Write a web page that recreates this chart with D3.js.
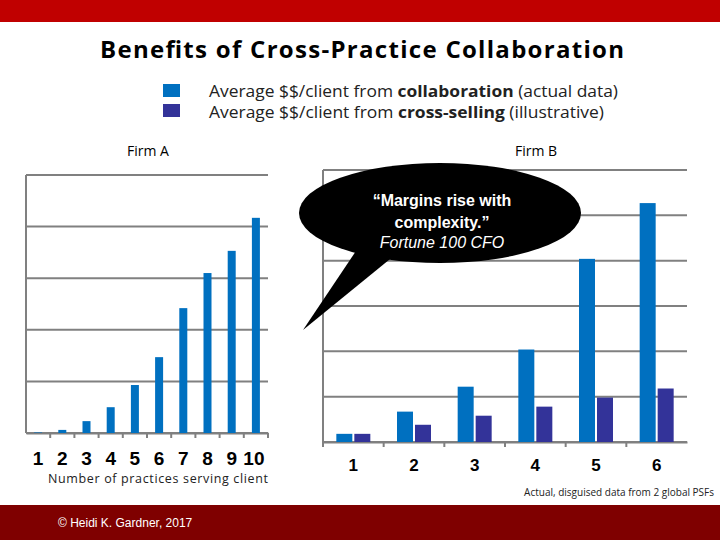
<!DOCTYPE html>
<html><head><meta charset="utf-8">
<script src="https://cdn.jsdelivr.net/npm/d3@7"></script>
<style>body{margin:0}svg{display:block}</style>
</head><body><div id="chart"></div>
<script>
const practicesA = ["1","2","3","4","5","6","7","8","9","10"];
const firmA = [0.01, 0.06, 0.23, 0.5, 0.93, 1.47, 2.42, 3.1, 3.53, 4.17];
const practicesB = ["1","2","3","4","5","6"];
const firmBCollab = [0.18, 0.67, 1.22, 2.04, 4.04, 5.27];
const firmBCross = [0.18, 0.38, 0.58, 0.78, 0.98, 1.18];

const blue = "#0070C0", purple = "#333399", grid = "#808080";
const font = "'Open Sans', sans-serif";

const svg = d3.select("#chart").append("svg").attr("width", 720).attr("height", 540);
svg.append("rect").attr("width", 720).attr("height", 540).attr("fill", "#fff");
svg.append("rect").attr("width", 720).attr("height", 22).attr("fill", "#C00000");
svg.append("rect").attr("y", 505).attr("width", 720).attr("height", 35).attr("fill", "#7F0000");
svg.append("text").attr("x", 58).attr("y", 527).attr("fill", "#fff")
  .attr("font-family", "Arial, sans-serif").attr("font-size", 12).text("© Heidi K. Gardner, 2017");

svg.append("text").attr("x", 362).attr("y", 58).attr("text-anchor", "middle")
  .attr("font-family", font).attr("font-weight", "bold").attr("font-size", 24)
  .attr("textLength", 524).text("Benefits of Cross-Practice Collaboration");

// legend
const legend = [
  {c: blue, pre: "Average $$/client from ", b: "collaboration", post: " (actual data)", w: 409},
  {c: purple, pre: "Average $$/client from ", b: "cross-selling", post: " (illustrative)", w: 395}
];
legend.forEach((l, i) => {
  svg.append("rect").attr("x", 163).attr("y", 84 + i * 20).attr("width", 17).attr("height", 13).attr("fill", l.c);
  const t = svg.append("text").attr("x", 209).attr("y", 97 + i * 21)
    .attr("font-family", font).attr("font-size", 16).attr("fill", "#222")
    .attr("textLength", l.w).attr("lengthAdjust", "spacingAndGlyphs");
  t.append("tspan").text(l.pre);
  t.append("tspan").attr("font-weight", "bold").text(l.b);
  t.append("tspan").text(l.post);
});

svg.append("text").attr("x", 148).attr("y", 156).attr("text-anchor", "middle")
  .attr("font-family", font).attr("font-size", 14).text("Firm A");
svg.append("text").attr("x", 536).attr("y", 156).attr("text-anchor", "middle")
  .attr("font-family", font).attr("font-size", 14).text("Firm B");

function drawGrid(g, y, x0, x1, n) {
  d3.range(0, n + 1).forEach(v => {
    g.append("line").attr("x1", x0).attr("x2", x1).attr("y1", y(v)).attr("y2", y(v))
      .attr("stroke", grid).attr("stroke-width", 2);
  });
  g.append("line").attr("x1", x0).attr("x2", x0).attr("y1", y(0)).attr("y2", y(n))
    .attr("stroke", grid).attr("stroke-width", 2);
}

// Firm A
const xA = d3.scaleBand().domain(practicesA).range([26, 268]);
const yA = d3.scaleLinear().domain([0, 5]).range([433, 175]);
const gA = svg.append("g");
drawGrid(gA, yA, 26, 268, 5);
gA.append("g").attr("transform", "translate(0,433)")
  .call(d3.axisBottom(xA).tickSize(5).tickSizeOuter(0).tickFormat(""))
  .call(a => a.select(".domain").attr("stroke", grid).attr("stroke-width", 2))
  .call(a => a.selectAll(".tick line").attr("stroke", grid).attr("stroke-width", 2)
    .attr("transform", `translate(${xA.bandwidth() / 2},0)`));
gA.selectAll("rect.bar").data(firmA).join("rect")
  .attr("x", (d, i) => xA(practicesA[i]) + xA.bandwidth() / 2 - 4)
  .attr("width", 8).attr("y", d => yA(d)).attr("height", d => yA(0) - yA(d)).attr("fill", blue);
gA.selectAll("text.lab").data(practicesA).join("text")
  .attr("x", d => xA(d) + xA.bandwidth() / 2 + (d === "10" ? -2 : 0)).attr("y", 465)
  .attr("text-anchor", "middle").attr("font-family", "Arial, sans-serif")
  .attr("font-weight", "bold").attr("font-size", 19).text(d => d);
svg.append("text").attr("x", 158).attr("y", 483).attr("text-anchor", "middle")
  .attr("font-family", font).attr("font-size", 12.5).attr("fill", "#222")
  .attr("textLength", 220).text("Number of practices serving client");

// Firm B
const xB = d3.scaleBand().domain(practicesB).range([323, 687]);
const yB = d3.scaleLinear().domain([0, 6]).range([442, 170]);
const gB = svg.append("g");
drawGrid(gB, yB, 323, 687, 6);
gB.append("g").attr("transform", "translate(0,442)")
  .call(d3.axisBottom(xB).tickSize(5).tickSizeOuter(0).tickFormat(""))
  .call(a => a.select(".domain").attr("stroke", grid).attr("stroke-width", 2))
  .call(a => a.selectAll(".tick line").attr("stroke", grid).attr("stroke-width", 2)
    .attr("transform", `translate(${-xB.bandwidth() / 2},0)`));
gB.selectAll("rect.c").data(firmBCollab).join("rect").attr("class", "c")
  .attr("x", (d, i) => xB(practicesB[i]) + xB.bandwidth() / 2 - 17)
  .attr("width", 16).attr("y", d => yB(d)).attr("height", d => yB(0) - yB(d)).attr("fill", blue);
gB.selectAll("rect.s").data(firmBCross).join("rect").attr("class", "s")
  .attr("x", (d, i) => xB(practicesB[i]) + xB.bandwidth() / 2 + 1)
  .attr("width", 16).attr("y", d => yB(d)).attr("height", d => yB(0) - yB(d)).attr("fill", purple);
gB.selectAll("text.lab").data(practicesB).join("text")
  .attr("x", d => xB(d) + xB.bandwidth() / 2).attr("y", 471)
  .attr("text-anchor", "middle").attr("font-family", "Arial, sans-serif")
  .attr("font-weight", "bold").attr("font-size", 17).text(d => d);
svg.append("text").attr("x", 714).attr("y", 496).attr("text-anchor", "end")
  .attr("font-family", font).attr("font-size", 10).attr("fill", "#222").text("Actual, disguised data from 2 global PSFs");

// speech bubble
const bubble = svg.append("g");
bubble.append("path").attr("d", "M360,245 L303,330 L395,255 Z").attr("fill", "#000");
bubble.append("ellipse").attr("cx", 440).attr("cy", 213).attr("rx", 141).attr("ry", 50).attr("fill", "#000");
[["“Margins rise with", 206, "bold", "normal"], ["complexity.”", 228, "bold", "normal"], ["Fortune 100 CFO", 248, "normal", "italic"]]
  .forEach(([t, y, w, s]) => bubble.append("text").attr("x", 442).attr("y", y).attr("text-anchor", "middle")
    .attr("fill", "#fff").attr("font-family", "Arial, sans-serif").attr("font-size", 16)
    .attr("font-weight", w).attr("font-style", s).text(t));
</script>
</body></html>
